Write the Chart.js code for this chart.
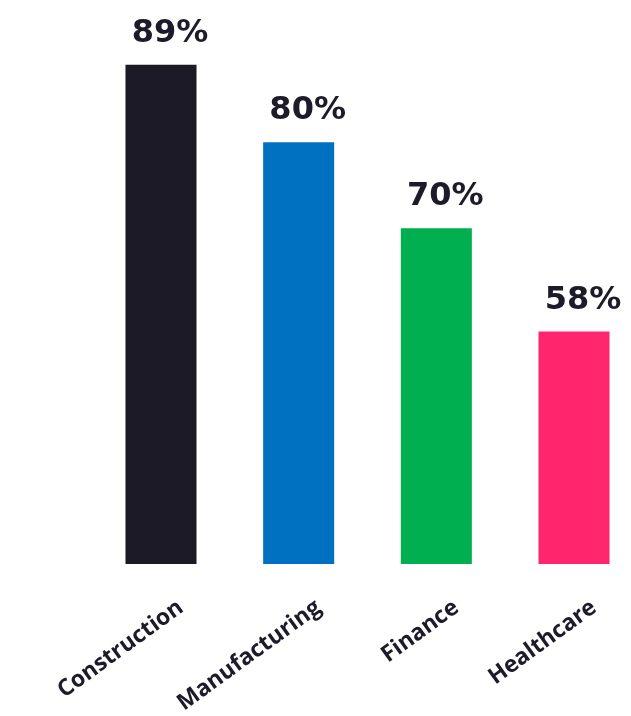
<!DOCTYPE html>
<html>
<head>
<meta charset="utf-8">
<script src="https://cdn.jsdelivr.net/npm/chart.js@4.4.1/dist/chart.umd.min.js"></script>
<style>
  html, body { margin: 0; padding: 0; background: #fff; }
  #wrap { width: 631px; height: 716px; }
</style>
</head>
<body>
<div id="wrap"><canvas id="sectorChart"></canvas></div>
<script>
// data
const sectors = ['Construction', 'Manufacturing', 'Finance', 'Healthcare'];
const shares = [89, 80, 70, 58];
const barColors = ['#1c1a26', '#0070c0', '#00b050', '#ff266d'];

const yMin = 31;
const yMax = 95;
const inkColor = '#1d1b2a';

// percentage labels above each bar
const valueLabels = {
    id: 'valueLabels',
    afterDatasetsDraw(chart) {
        const ctx = chart.ctx;
        const meta = chart.getDatasetMeta(0);
        ctx.save();
        ctx.font = 'bold 32px "DejaVu Sans"';
        ctx.fillStyle = inkColor;
        ctx.textAlign = 'center';
        ctx.textBaseline = 'alphabetic';
        meta.data.forEach(function(bar, i) {
            ctx.fillText(shares[i] + '%', bar.x + 9, bar.y - 23);
        });
        ctx.restore();
    }
};

const sectorChart = new Chart(document.getElementById('sectorChart'), {
    type: 'bar',
    data: {
        labels: sectors,
        datasets: [{
            data: shares,
            base: yMin,
            backgroundColor: barColors,
            borderWidth: 0,
            categoryPercentage: 1,
            barPercentage: 0.516,
            clip: { left: false, right: false, top: false, bottom: 0 }
        }]
    },
    options: {
        responsive: true,
        maintainAspectRatio: false,
        animation: false,
        layout: {
            padding: { top: 13, left: 161, right: 57, bottom: 0 }
        },
        plugins: {
            legend: { display: false },
            tooltip: { enabled: false }
        },
        scales: {
            x: {
                offset: false,
                grid: { display: false, drawTicks: false },
                border: { display: false },
                ticks: {
                    color: inkColor,
                    font: { family: '"Open Sans"', size: 23, weight: 'bold' },
                    minRotation: 36,
                    maxRotation: 36,
                    padding: 30,
                    labelOffset: 20,
                    autoSkip: false
                },
                afterFit(scale) { scale.height = 152; }
            },
            y: {
                display: false,
                min: yMin,
                max: yMax
            }
        }
    },
    plugins: [valueLabels]
});
</script>
</body>
</html>
